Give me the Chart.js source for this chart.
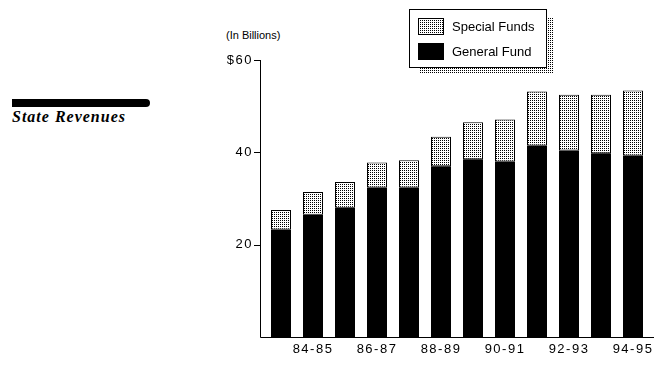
<!DOCTYPE html>
<html>
<head>
<meta charset="utf-8">
<script src="https://cdn.jsdelivr.net/npm/chart.js@4.4.1/dist/chart.umd.min.js"></script>
<style>
body { margin: 0; background: #fff; }
#wrap { position: relative; width: 662px; height: 366px; overflow: hidden; }
#rule { position: absolute; left: 12px; top: 99px; width: 138px; height: 8px; background: #000; border-radius: 0 4px 4px 0; }
#title { position: absolute; left: 12px; top: 108px; font: bold italic 16px "Liberation Serif", "DejaVu Serif", serif; letter-spacing: 1px; }
#unit { position: absolute; left: 226px; top: 29px; font: 11px "Liberation Sans", Arial, sans-serif; }
canvas { position: absolute; left: 0; top: 0; }
</style>
</head>
<body>
<div id="wrap">
  <div id="rule"></div>
  <div id="title">State Revenues</div>
  <div id="unit">(In Billions)</div>
  <canvas id="revenue_chart" width="662" height="366"></canvas>
</div>
<script>
const years = ['83-84', '84-85', '85-86', '86-87', '87-88', '88-89', '89-90', '90-91', '91-92', '92-93', '93-94', '94-95'];
const generalFund = [23.3, 26.5, 28.0, 32.4, 32.4, 37.0, 38.5, 38.0, 41.5, 40.4, 39.8, 39.3];
const specialFunds = [4.2, 4.9, 5.6, 5.4, 5.9, 6.4, 8.0, 9.1, 11.7, 12.1, 12.7, 14.1];
const yTicks = [20, 40, 60];

const canvas = document.getElementById('revenue_chart');
const ctx = canvas.getContext('2d');

// fine dot screen like the printed original
function stipple() {
    const c = document.createElement('canvas');
    c.width = 2;
    c.height = 2;
    const g = c.getContext('2d');
    g.fillStyle = '#fff';
    g.fillRect(0, 0, 2, 2);
    g.fillStyle = '#000';
    g.fillRect(0, 0, 1, 1);
    return ctx.createPattern(c, 'repeat');
}
const dots = stipple();
const font = '"Liberation Sans", Arial, sans-serif';

const axesAndLegend = {
    id: 'axesAndLegend',
    beforeDraw(chart) {
        // tick labels in the original are spaced out
        chart.ctx.letterSpacing = '1.5px';
    },
    afterDraw(chart) {
        const c = chart.ctx;
        const area = chart.chartArea;
        const y = chart.scales.y;
        const x0 = 260.5;
        c.save();
        c.letterSpacing = '0px';
        c.strokeStyle = '#000';
        c.lineWidth = 1;
        c.beginPath();
        c.moveTo(x0, area.top);
        c.lineTo(x0, area.bottom + 0.5);
        c.lineTo(654, area.bottom + 0.5);
        yTicks.forEach(v => {
            const py = Math.round(y.getPixelForValue(v)) + 0.5;
            c.moveTo(254, py);
            c.lineTo(x0, py);
        });
        c.stroke();

        // legend box with dotted shadow
        const bx = 409, by = 9, bw = 138, bh = 59;
        c.fillStyle = dots;
        c.fillRect(bx + bw, by + 8, 6, bh - 3);
        c.fillRect(bx + 11, by + bh, bw - 5, 5);
        c.fillStyle = '#fff';
        c.fillRect(bx, by, bw, bh);
        c.strokeRect(bx + 0.5, by + 0.5, bw - 1, bh - 1);

        const items = chart.data.datasets.slice().reverse();
        c.font = '13px ' + font;
        c.textBaseline = 'middle';
        items.forEach((ds, i) => {
            const sy = 18 + i * 25;
            c.fillStyle = ds.backgroundColor;
            c.fillRect(418, sy, 26, 17);
            c.strokeRect(418.5, sy + 0.5, 25, 16);
            c.fillStyle = '#000';
            c.fillText(ds.label, 452, sy + 9);
        });
        c.restore();
    }
};

new Chart(ctx, {
    type: 'bar',
    data: {
        labels: years,
        datasets: [{
            label: 'General Fund',
            data: generalFund,
            backgroundColor: '#000',
            borderColor: '#000',
            borderWidth: 0
        }, {
            label: 'Special Funds',
            data: specialFunds,
            backgroundColor: dots,
            borderColor: '#000',
            borderWidth: 1,
            borderSkipped: false
        }]
    },
    options: {
        responsive: false,
        animation: false,
        devicePixelRatio: 1,
        layout: {
            padding: { left: 200, top: 60, right: 13, bottom: 0 }
        },
        datasets: {
            bar: {
                categoryPercentage: 1,
                barPercentage: 0.625
            }
        },
        scales: {
            x: {
                stacked: true,
                grid: { display: false, drawTicks: false },
                border: { display: false },
                ticks: {
                    autoSkip: false,
                    maxRotation: 0,
                    padding: 5,
                    color: '#000',
                    font: { family: font, size: 13 },
                    callback: (v, i) => (i % 2 === 1 ? years[i] : '')
                },
                afterFit: s => { s.height = 29; }
            },
            y: {
                stacked: true,
                min: 0,
                max: 60,
                grid: { display: false, drawTicks: false },
                border: { display: false },
                ticks: {
                    stepSize: 20,
                    padding: 12,
                    color: '#000',
                    font: { family: font, size: 13 },
                    callback: v => (v === 0 ? '' : v === 60 ? '$60' : String(v))
                },
                afterFit: s => { s.width = 65; }
            }
        },
        plugins: {
            legend: { display: false },
            tooltip: { enabled: false }
        }
    },
    plugins: [axesAndLegend]
});
</script>
</body>
</html>
